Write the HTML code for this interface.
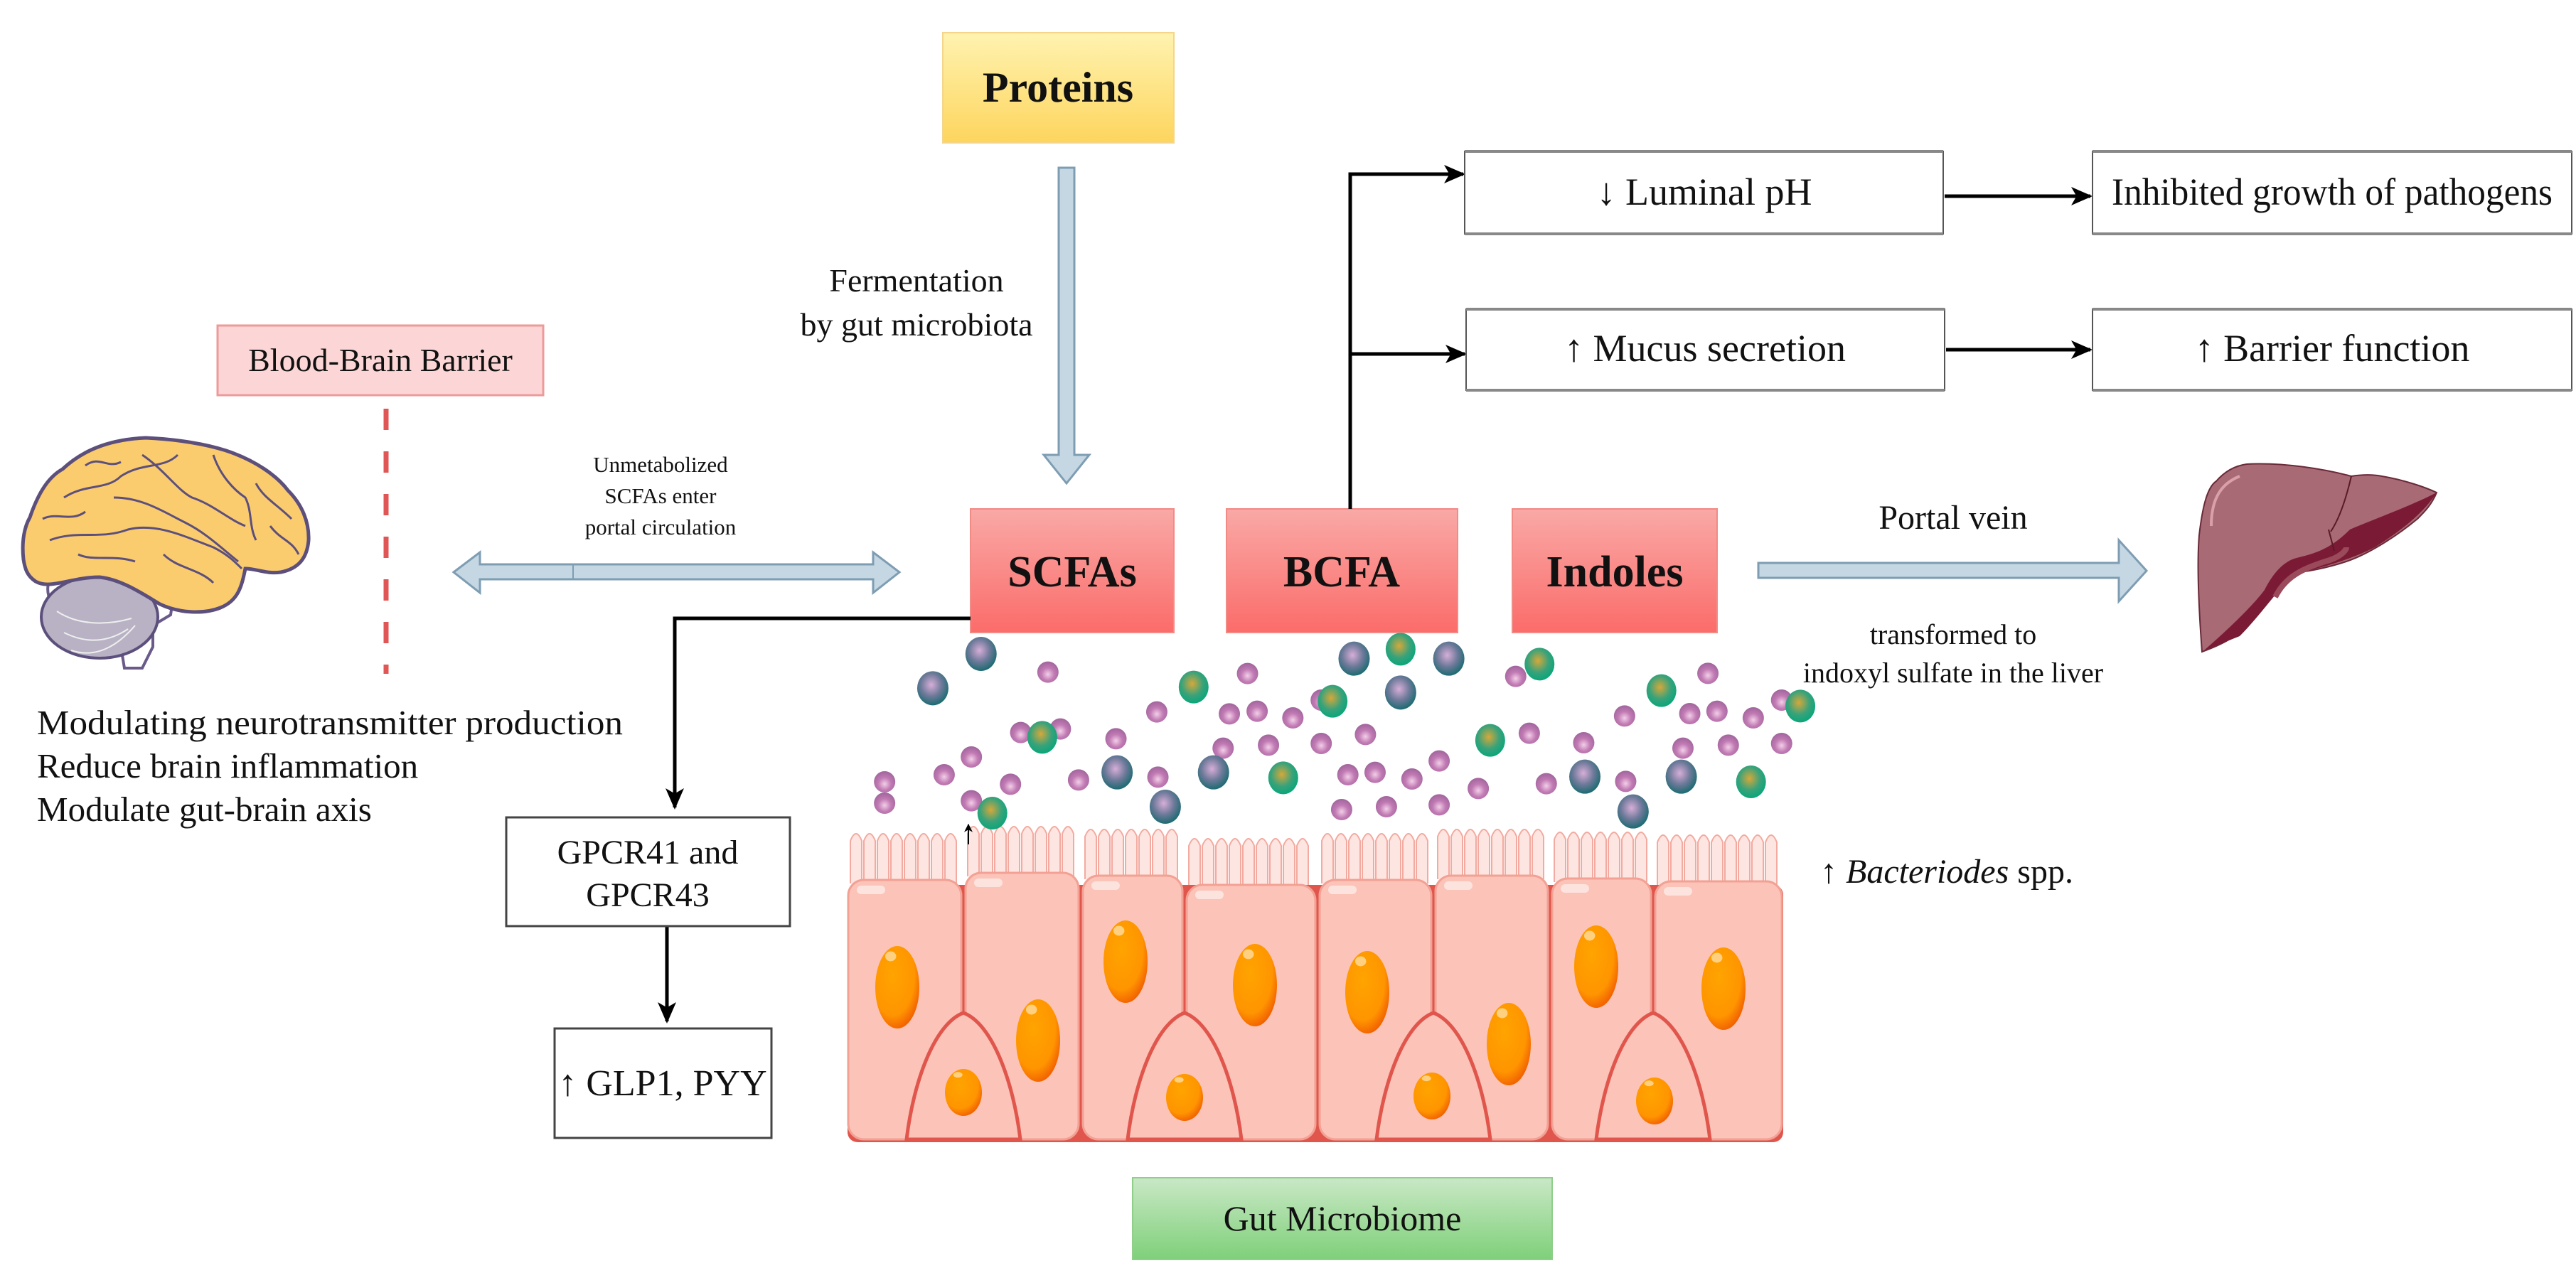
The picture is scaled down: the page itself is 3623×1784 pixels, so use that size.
<!DOCTYPE html>
<html><head><meta charset="utf-8"><style>
html,body{margin:0;padding:0;background:#fff;}
svg{display:block;}
text{font-family:"Liberation Serif",serif;fill:#111;}
</style></head><body>
<svg id="s" width="3623" height="1784" viewBox="0 0 3623 1784" xmlns="http://www.w3.org/2000/svg">
<defs>
<linearGradient id="yel" x1="0" y1="0" x2="0" y2="1"><stop offset="0" stop-color="#fff3b0"/><stop offset="1" stop-color="#fdd55e"/></linearGradient>
<linearGradient id="red" x1="0" y1="0" x2="0" y2="1"><stop offset="0" stop-color="#f9a9a6"/><stop offset="1" stop-color="#fb6c6a"/></linearGradient>
<linearGradient id="grn" x1="0" y1="0" x2="0" y2="1"><stop offset="0" stop-color="#c9e8c6"/><stop offset="1" stop-color="#7fd07a"/></linearGradient>
<radialGradient id="gd" cx="0.45" cy="0.4" r="0.6"><stop offset="0" stop-color="#d7aed8"/><stop offset="0.55" stop-color="#6f7a9a"/><stop offset="1" stop-color="#1c6b72"/></radialGradient>
<radialGradient id="gg" cx="0.45" cy="0.4" r="0.6"><stop offset="0" stop-color="#d6a83a"/><stop offset="0.6" stop-color="#3aa27a"/><stop offset="1" stop-color="#0aa67a"/></radialGradient>
<radialGradient id="gs" cx="0.5" cy="0.6" r="0.6"><stop offset="0" stop-color="#f2cfe8"/><stop offset="0.5" stop-color="#c27bb4"/><stop offset="1" stop-color="#a0649c"/></radialGradient>
<radialGradient id="nuc" cx="0.4" cy="0.35" r="0.7"><stop offset="0" stop-color="#ffa400"/><stop offset="0.7" stop-color="#ff9500"/><stop offset="1" stop-color="#f05a00"/></radialGradient>
<marker id="ah" markerWidth="30" markerHeight="26" refX="9" refY="5" orient="auto" markerUnits="userSpaceOnUse" viewBox="0 0 10 10" preserveAspectRatio="none"><path d="M0,0 L10,5 L0,10 L2.5,5 z" fill="#000"/></marker>
<marker id="sah" markerWidth="12" markerHeight="12" refX="9" refY="5" orient="auto" markerUnits="userSpaceOnUse" viewBox="0 0 10 10"><path d="M0,0 L10,5 L0,10 L3,5 z" fill="#000"/></marker>
</defs>

<!-- Proteins -->
<rect x="1326" y="46" width="325" height="155" fill="url(#yel)" stroke="#f5d58a" stroke-width="2"/>
<text x="1488" y="143" font-size="60" font-weight="bold" text-anchor="middle">Proteins</text>

<path d="M1489,236 L1511,236 L1511,640 L1532,640 L1500,680 L1468,640 L1489,640 Z" fill="#c4d7e3" stroke="#7e9db3" stroke-width="3"/>
<text x="1289" y="410" font-size="46" text-anchor="middle">Fermentation</text>
<text x="1289" y="472" font-size="46" text-anchor="middle">by gut microbiota</text>

<rect x="306" y="458" width="458" height="98" fill="#fcd6d6" stroke="#ee9a9a" stroke-width="3"/>
<text x="535" y="522" font-size="46" text-anchor="middle">Blood-Brain Barrier</text>
<line x1="543" y1="575" x2="543" y2="948" stroke="#e05555" stroke-width="7" stroke-dasharray="30,30"/>

<!-- Brain -->
<g>
<path d="M95,910 C70,920 55,950 80,980 C110,1010 160,1000 180,985 L190,1010 L170,1030 L175,1060 L200,1060 L215,1030 L215,1000 L240,985 L245,950 Z" fill="#fff" stroke="#6a5a8a" stroke-width="4" transform="translate(0,-120)"/>
<ellipse cx="140" cy="868" rx="82" ry="58" fill="#b8b2c4" stroke="#5c4f7c" stroke-width="4"/>
<path d="M33,787 C30,760 35,740 42,728 C55,690 70,670 88,660 C120,630 160,618 205,616 C250,618 290,625 318,634 C360,648 390,670 405,690 C425,710 435,735 434,760 C432,785 420,800 395,805 C375,808 360,800 345,800 C340,825 335,845 310,855 C285,865 250,862 225,850 C200,835 170,815 140,812 C100,812 70,830 50,818 C38,810 35,800 33,787 Z" fill="#fbcc6e" stroke="#5c4f7c" stroke-width="5"/>
<g fill="none" stroke="#5c4f7c" stroke-width="3">
<path d="M70,760 C110,745 140,760 180,745 C220,735 260,755 300,770 C320,780 330,790 340,800"/>
<path d="M160,700 C200,700 230,720 260,735 C290,750 310,770 335,790"/>
<path d="M90,700 C120,680 150,690 170,670 C200,650 230,660 250,640"/>
<path d="M200,640 C230,660 250,690 270,700 C300,710 320,730 345,740"/>
<path d="M300,640 C310,670 330,690 345,700 C355,720 350,740 360,760"/>
<path d="M360,680 C370,700 390,710 410,730"/>
<path d="M60,730 C80,720 100,735 120,720"/>
<path d="M110,780 C130,790 160,780 190,790"/>
<path d="M230,780 C250,800 280,800 300,820"/>
<path d="M120,655 C140,640 150,660 170,650"/>
<path d="M380,740 C395,760 410,760 420,780"/>
</g>
<g stroke="#eee" stroke-width="2" fill="none">
<path d="M80,860 C110,880 150,880 185,870"/><path d="M90,890 C120,905 150,905 180,885"/><path d="M100,915 C130,925 160,915 190,880"/>
</g>
</g>

<path d="M638,805 L675,777 L675,794 L1228,794 L1228,777 L1265,805 L1228,834 L1228,815 L675,815 L675,834 Z" fill="#c4d7e3" stroke="#7e9db3" stroke-width="3"/>
<line x1="806" y1="794" x2="806" y2="815" stroke="#7e9db3" stroke-width="2"/>
<text x="929" y="664" font-size="31" text-anchor="middle">Unmetabolized</text>
<text x="929" y="708" font-size="31" text-anchor="middle">SCFAs enter</text>
<text x="929" y="752" font-size="31" text-anchor="middle">portal circulation</text>

<rect x="1365" y="716" width="286" height="174" fill="url(#red)" stroke="#f28a86" stroke-width="2"/>
<text x="1508" y="825" font-size="62" font-weight="bold" text-anchor="middle">SCFAs</text>
<rect x="1725" y="716" width="325" height="174" fill="url(#red)" stroke="#f28a86" stroke-width="2"/>
<text x="1887" y="825" font-size="62" font-weight="bold" text-anchor="middle">BCFA</text>
<rect x="2127" y="716" width="288" height="174" fill="url(#red)" stroke="#f28a86" stroke-width="2"/>
<text x="2271" y="825" font-size="62" font-weight="bold" text-anchor="middle">Indoles</text>

<g stroke="#000" stroke-width="5" fill="none">
<polyline points="1899,716 1899,245 2058,245" marker-end="url(#ah)"/>
<line x1="1899" y1="498" x2="2060" y2="498" marker-end="url(#ah)"/>
<line x1="2735" y1="276" x2="2940" y2="276" marker-end="url(#ah)"/>
<line x1="2737" y1="492" x2="2940" y2="492" marker-end="url(#ah)"/>
</g>
<g fill="#fff" stroke="#555" stroke-width="2">
<rect x="2060" y="213" width="673" height="116"/>
<rect x="2943" y="213" width="674" height="116"/>
<rect x="2062" y="435" width="673" height="114"/>
<rect x="2943" y="435" width="674" height="114"/>
</g>
<g stroke="#888" stroke-width="4">
<line x1="2060" y1="213" x2="2733" y2="213"/><line x1="2060" y1="329" x2="2733" y2="329"/>
<line x1="2943" y1="213" x2="3617" y2="213"/><line x1="2943" y1="329" x2="3617" y2="329"/>
<line x1="2062" y1="435" x2="2735" y2="435"/><line x1="2062" y1="549" x2="2735" y2="549"/>
<line x1="2943" y1="435" x2="3617" y2="435"/><line x1="2943" y1="549" x2="3617" y2="549"/>
</g>
<text x="2397" y="288" font-size="54" text-anchor="middle">↓ Luminal pH</text>
<text x="3280" y="288" font-size="54" text-anchor="middle" textLength="620" lengthAdjust="spacingAndGlyphs">Inhibited growth of pathogens</text>
<text x="2398" y="508" font-size="54" text-anchor="middle">↑ Mucus secretion</text>
<text x="3280" y="508" font-size="54" text-anchor="middle">↑ Barrier function</text>

<path d="M2473,792 L2980,792 L2980,760 L3019,803 L2980,846 L2980,813 L2473,813 Z" fill="#c4d7e3" stroke="#7e9db3" stroke-width="3"/>
<text x="2747" y="744" font-size="48" text-anchor="middle">Portal vein</text>
<text x="2747" y="906" font-size="40" text-anchor="middle">transformed to</text>
<text x="2747" y="960" font-size="40" text-anchor="middle">indoxyl sulfate in the liver</text>

<path d="M3097,917 C3092,850 3090,790 3093,753 C3098,710 3105,685 3117,677 C3130,662 3145,655 3160,653 C3210,650 3270,660 3307,670 C3320,668 3335,667 3350,670 C3380,675 3410,685 3427,693 C3420,710 3410,720 3400,730 C3370,755 3330,780 3300,790 C3270,800 3240,805 3217,807 C3195,830 3180,860 3160,880 C3145,895 3130,905 3097,917 Z" fill="#a86a75" stroke="#6a2a38" stroke-width="2"/>
<path d="M3100,915 C3140,880 3170,850 3185,830 C3195,810 3210,790 3230,785 C3260,778 3280,770 3305,745 C3340,730 3390,712 3427,693 C3410,720 3380,745 3340,770 C3300,790 3260,800 3225,808 C3200,835 3175,870 3150,895 Z" fill="#7a1a35"/>
<path d="M3200,840 C3215,810 3240,800 3270,790 C3290,785 3300,775 3300,770" fill="none" stroke="#9a4a5a" stroke-width="8"/>
<path d="M3275,745 L3283,775" stroke="#5a1a28" stroke-width="2"/>
<path d="M3307,670 C3300,700 3290,730 3278,748" stroke="#5a1a28" stroke-width="2" fill="none"/>
<path d="M3110,740 C3110,700 3125,680 3150,670" stroke="#d9a0aa" stroke-width="4" fill="none"/>

<g stroke="#000" stroke-width="5" fill="none">
<polyline points="1365,870 949,870 949,1136" marker-end="url(#ah)"/>
<line x1="938" y1="1303" x2="938" y2="1437" marker-end="url(#ah)"/>
</g>
<rect x="712" y="1150" width="399" height="153" fill="#fff" stroke="#444" stroke-width="3"/>
<text x="911" y="1215" font-size="48" text-anchor="middle">GPCR41 and</text>
<text x="911" y="1275" font-size="48" text-anchor="middle">GPCR43</text>
<rect x="780" y="1447" width="305" height="154" fill="#fff" stroke="#444" stroke-width="3"/>
<text x="932" y="1541" font-size="52" text-anchor="middle">↑ GLP1, PYY</text>

<text x="52" y="1033" font-size="49" textLength="824" lengthAdjust="spacingAndGlyphs">Modulating neurotransmitter production</text>
<text x="52" y="1094" font-size="49">Reduce brain inflammation</text>
<text x="52" y="1155" font-size="49">Modulate gut-brain axis</text>

<text x="2560" y="1242" font-size="48">↑ <tspan font-style="italic">Bacteriodes</tspan> spp.</text>

<g id="cells"></g>
<g id="parts"></g>
<line x1="1362" y1="1188" x2="1362" y2="1160" stroke="#000" stroke-width="2" marker-end="url(#sah)"/>

<rect x="1593" y="1657" width="590" height="115" fill="url(#grn)" stroke="#8fcf8a" stroke-width="2"/>
<text x="1888" y="1731" font-size="50" text-anchor="middle">Gut Microbiome</text>
</svg>
<script>
(function(){
var NS="http://www.w3.org/2000/svg";
function el(p,t,a){var e=document.createElementNS(NS,t);for(var k in a)e.setAttribute(k,a[k]);p.appendChild(e);return e;}
var C=document.getElementById("cells");
var b=[1190,1355,1520,1666,1853,2016,2180,2325,2509];
var tops=[1238,1228,1232,1245,1238,1232,1236,1240];
for(var i=0;i<8;i++){
  var x0=b[i]+6,x1=b[i+1]-6,t=tops[i];
  for(var x=x0;x<x1-10;x+=19){
    el(C,"path",{d:"M"+x+","+(t+5)+" L"+x+","+(t-55)+" Q"+(x+8)+","+(t-75)+" "+(x+16)+","+(t-55)+" L"+(x+16)+","+(t+5),fill:"#fde6e1",stroke:"#f3aaa0","stroke-width":2});
  }
}
el(C,"rect",{x:1192,y:1245,width:1316,height:362,fill:"#e0564c",rx:14});
for(var i=0;i<8;i++){
  el(C,"rect",{x:b[i]+3,y:tops[i],width:b[i+1]-b[i]-6,height:1603-tops[i],rx:22,fill:"#fcc3b8",stroke:"#f2a194","stroke-width":3});
  el(C,"rect",{x:b[i]+15,y:tops[i]+8,width:40,height:12,rx:6,fill:"#fde3dd"});
}
var bs=[1355,1666,2016,2325];
bs.forEach(function(cx){
  el(C,"path",{d:"M"+(cx-80)+",1603 C"+(cx-70)+",1520 "+(cx-40)+",1440 "+cx+",1425 C"+(cx+40)+",1440 "+(cx+70)+",1520 "+(cx+80)+",1603 Z",fill:"#fcc3b8",stroke:"#e0564c","stroke-width":5});
});
var N=[[1262,1389,31,58],[1460,1464,31,58],[1583,1353,31,58],[1765,1386,31,58],[1923,1396,31,58],[2122,1469,31,58],[2245,1360,31,58],[2424,1391,31,58],
[1355,1537,26,33],[1666,1544,26,33],[2014,1542,26,33],[2327,1549,26,33]];
N.forEach(function(n){el(C,"ellipse",{cx:n[0],cy:n[1],rx:n[2],ry:n[3],fill:"url(#nuc)"});
 el(C,"ellipse",{cx:n[0]-n[2]*0.3,cy:n[1]-n[3]*0.75,rx:n[2]*0.25,ry:n[3]*0.12,fill:"#ffd080"});});
var P=document.getElementById("parts");
function tx(z){return [1300+z[0]/1.254,880+z[1]/3];}
var D=[[100,120],[15,265],[758,140],[925,140],[840,283],[340,620],[510,620],[425,765],[1165,638],[1335,638],[1250,785]];
var G=[[840,100],[475,260],[720,320],[208,472],[1085,163],[1300,275],[998,485],[633,643],[120,792],[1458,660],[1545,340]];
var S=[[218,197],[570,203],[410,365],[538,373],[587,362],[650,390],[700,315],[170,452],[240,437],[338,478],[83,555],[35,630],[152,670],[272,652],[412,640],[83,740],[527,518],[607,505],[700,498],[778,460],[1043,215],[1382,202],[1235,382],[1350,372],[1398,362],[1462,390],[1512,315],[1067,455],[1163,495],[1338,518],[1418,505],[1512,498],[908,572],[747,630],[795,620],[860,648],[977,688],[1097,668],[1237,658],[736,777],[815,765],[908,757],[-70,660],[-70,750]];
S.forEach(function(z){var p=tx(z);el(P,"circle",{cx:p[0],cy:p[1],r:15,fill:"url(#gs)"});});
D.forEach(function(z){var p=tx(z);el(P,"ellipse",{cx:p[0],cy:p[1],rx:22,ry:24,fill:"url(#gd)"});});
G.forEach(function(z){var p=tx(z);el(P,"ellipse",{cx:p[0],cy:p[1],rx:21,ry:23,fill:"url(#gg)"});});
})();
</script>
</body></html>
